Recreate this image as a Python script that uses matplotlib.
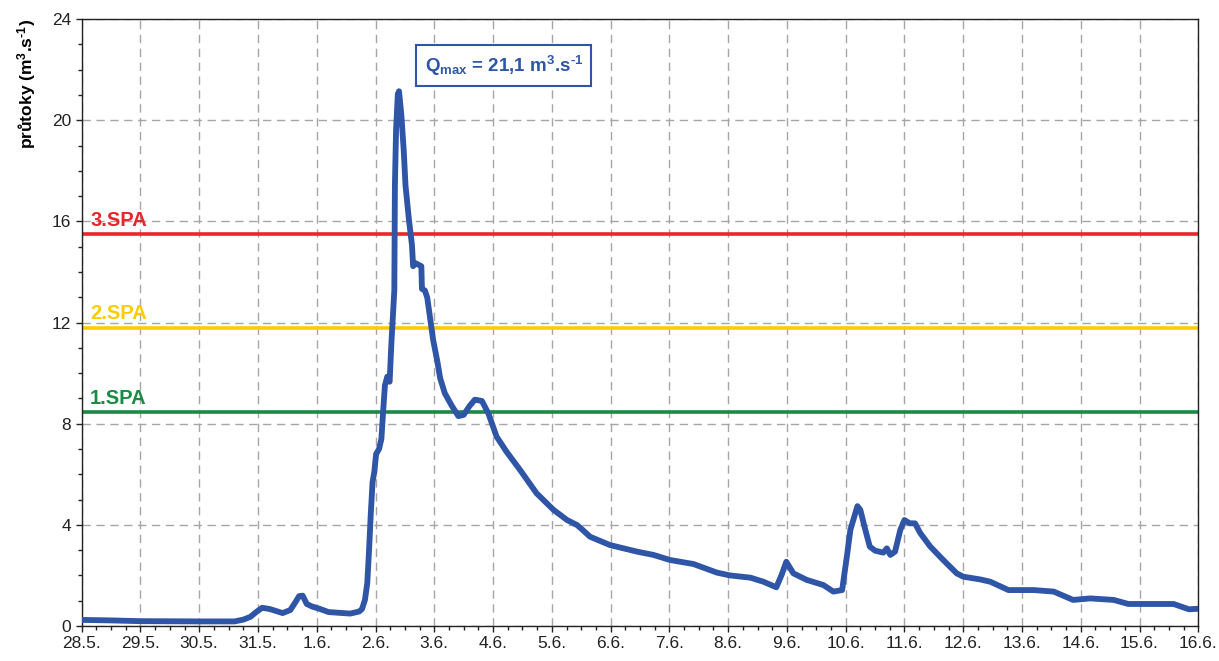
import matplotlib
matplotlib.use("Agg")
import matplotlib.pyplot as plt
from matplotlib.ticker import MultipleLocator

plt.rcParams['font.family'] = ['Liberation Sans', 'DejaVu Sans']
plt.rcParams['mathtext.fontset'] = 'custom'
plt.rcParams['mathtext.rm'] = 'Liberation Sans:bold'
plt.rcParams['mathtext.bf'] = 'Liberation Sans:bold'
plt.rcParams['mathtext.it'] = 'Liberation Sans:bold'

# time in days since 28.5. 00:00, flow in m3/s
days = [0.0, 0.5, 1.0, 2.0, 2.6, 2.75, 2.87, 2.97, 3.07, 3.2, 3.42, 3.55, 3.64, 3.7,
        3.76, 3.83, 3.92, 4.06, 4.2, 4.57, 4.72, 4.77, 4.82, 4.86, 4.89, 4.92, 4.95,
        4.98, 5.01, 5.06, 5.1, 5.13, 5.16, 5.2, 5.24, 5.27, 5.32, 5.33, 5.35, 5.38,
        5.40, 5.44, 5.48, 5.51, 5.57, 5.62, 5.64, 5.68, 5.72, 5.78, 5.79, 5.84, 5.88,
        5.93, 5.98, 6.05, 6.1, 6.18, 6.3, 6.41, 6.5, 6.6, 6.69, 6.81, 6.92, 7.06, 7.23,
        7.46, 7.74, 8.03, 8.26, 8.43, 8.5, 8.65, 8.99, 9.45, 9.73, 10.01, 10.41, 10.81,
        11.03, 11.38, 11.6, 11.82, 11.91, 11.99, 12.11, 12.34, 12.62, 12.79, 12.94,
        13.02, 13.08, 13.13, 13.2, 13.25, 13.32, 13.41, 13.5, 13.64, 13.7, 13.76,
        13.84, 13.93, 14.0, 14.09, 14.18, 14.27, 14.44, 14.66, 14.89, 15.0, 15.29,
        15.46, 15.77, 16.2, 16.54, 16.87, 17.16, 17.56, 17.81, 18.58, 18.84, 19.0]
flow = [0.24, 0.22, 0.19, 0.18, 0.18, 0.25, 0.36, 0.55, 0.72, 0.67, 0.51, 0.63, 0.95, 1.18,
        1.2, 0.87, 0.77, 0.67, 0.55, 0.49, 0.57, 0.67, 1.03, 1.7, 3.0, 4.46, 5.7,
        6.1, 6.8, 7.0, 7.4, 8.5, 9.52, 9.86, 9.66, 11.18, 13.27, 17.43, 19.65, 21.04,
        21.15, 20.2, 18.81, 17.43, 16.04, 15.07, 14.23, 14.35, 14.3, 14.23, 13.33, 13.27, 12.99,
        12.16, 11.32, 10.49, 9.8, 9.2, 8.7, 8.3, 8.35, 8.7, 8.95, 8.9, 8.41, 7.49, 6.89,
        6.17, 5.25, 4.59, 4.19, 3.99, 3.85, 3.53, 3.2, 2.94, 2.81, 2.61, 2.45, 2.11,
        2.0, 1.91, 1.75, 1.53, 2.02, 2.54, 2.08, 1.82, 1.62, 1.36, 1.42,
        2.74, 3.8, 4.19, 4.74, 4.59, 3.93, 3.14, 2.98, 2.9, 3.07, 2.81,
        2.94, 3.8, 4.19, 4.06, 4.06, 3.67, 3.14, 2.61, 2.08, 1.95, 1.84,
        1.75, 1.42, 1.42, 1.36, 1.03, 1.09, 1.03, 0.87, 0.87, 0.66, 0.68]

day_labels = ["28.5.", "29.5.", "30.5.", "31.5.", "1.6.", "2.6.", "3.6.", "4.6.", "5.6.",
              "6.6.", "7.6.", "8.6.", "9.6.", "10.6.", "11.6.", "12.6.", "13.6.", "14.6.",
              "15.6.", "16.6."]

spa_names = ["1.SPA", "2.SPA", "3.SPA"]
spa_levels = [8.45, 11.8, 15.5]
spa_colors = ["#1b8a45", "#ffcc00", "#e8262b"]

q_max = 21.1
blue = "#2f55a6"

fig = plt.figure(figsize=(12.19, 6.61), dpi=100)
ax = fig.add_axes([0.067, 0.053, 0.916, 0.918])

ax.grid(True, which='major', color='#a6a6a6', linestyle=(0, (6, 4)), linewidth=1.0)
ax.set_axisbelow(True)

for name, lev, col in zip(spa_names, spa_levels, spa_colors):
    ax.axhline(lev, color=col, linewidth=2.6, zorder=2)
    ax.annotate(name, xy=(0, lev), xycoords=('axes fraction', 'data'),
                xytext=(6, 3), textcoords='offset points', ha='left', va='bottom',
                color=col, fontsize=14.5, fontweight='bold')

ax.plot(days, flow, color=blue, linewidth=4.2, solid_joinstyle='round', zorder=3)

ax.text(0.378, 0.923, r"Q$_{max}$ = " + f"{q_max:.1f}".replace('.', ',') + r" m$^{3}$.s$^{\text{-}1}$",
        transform=ax.transAxes, ha='center', va='center', color=blue,
        fontsize=13.5, fontweight='bold',
        bbox=dict(boxstyle='square,pad=0.45', facecolor='white', edgecolor=blue, linewidth=1.5))

ax.set_xlim(0, len(day_labels) - 1)
ax.set_ylim(0, 24)
ax.set_xticks(range(len(day_labels)))
ax.set_xticklabels(day_labels)
ax.xaxis.set_minor_locator(MultipleLocator(0.25))
ax.set_yticks([0, 4, 8, 12, 16, 20, 24])
ax.yaxis.set_minor_locator(MultipleLocator(1))
ax.tick_params(which='both', direction='out', length=4, width=1, colors='#222222',
               labelsize=12.5)
ax.tick_params(which='minor', length=3)

ax.set_ylabel(r"průtoky (m$^{3}$.s$^{\text{-}1}$)", fontsize=12.5, fontweight='bold',
              labelpad=10, loc='top')

for s in ax.spines.values():
    s.set_linewidth(1.0)
    s.set_color('#222222')

fig.savefig("out.png", dpi=100)
